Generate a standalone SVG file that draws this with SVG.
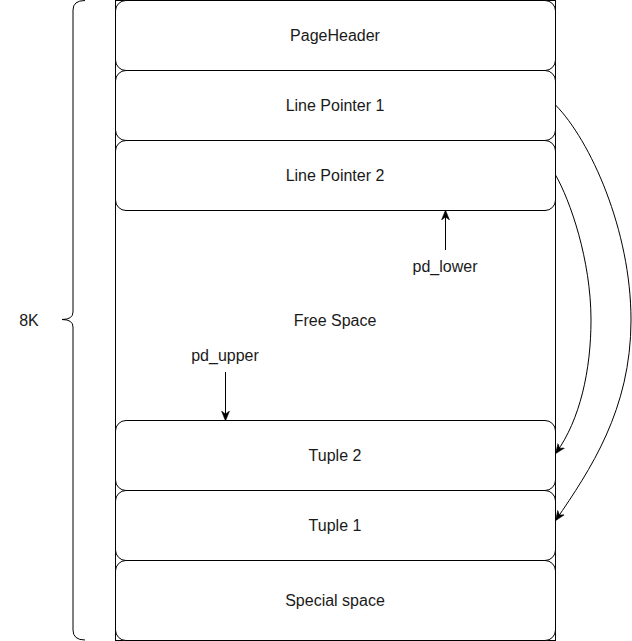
<svg xmlns="http://www.w3.org/2000/svg" width="632" height="641" viewBox="0 0 632 641">
<defs>
<style>
.box{fill:#fff;stroke:#000;stroke-width:1}
.lbl{font-family:"Liberation Sans",Arial,sans-serif;font-size:16px;fill:#1a1a1a;text-anchor:middle}
.edge{fill:none;stroke:#000;stroke-width:1}
</style>
<marker id="arr" viewBox="0 0 10 10" refX="9" refY="5" markerWidth="10" markerHeight="10" markerUnits="userSpaceOnUse" orient="auto">
<path d="M0,1 L10,5 L0,9 L3,5 Z" fill="#000" stroke="#000" stroke-width="0.5"/>
</marker>
</defs>
<rect width="632" height="641" fill="#fff"/>
<g id="free-space">
<rect class="box" x="115.5" y="0.5" width="440" height="640"/>
<text class="lbl" x="335" y="325.5">Free Space</text>
</g>
<g id="page-header">
<rect class="box" x="115.5" y="0.5" width="440" height="70" rx="10.5" ry="10.5"/>
<text class="lbl" x="335" y="40.5">PageHeader</text>
</g>
<g id="line-pointer-1">
<rect class="box" x="115.5" y="70.5" width="440" height="70" rx="10.5" ry="10.5"/>
<text class="lbl" x="335" y="110.5">Line Pointer 1</text>
</g>
<g id="line-pointer-2">
<rect class="box" x="115.5" y="140.5" width="440" height="70" rx="10.5" ry="10.5"/>
<text class="lbl" x="335" y="180.5">Line Pointer 2</text>
</g>
<g id="tuple-2">
<rect class="box" x="115.5" y="420.5" width="440" height="70" rx="10.5" ry="10.5"/>
<text class="lbl" x="335" y="460.5">Tuple 2</text>
</g>
<g id="tuple-1">
<rect class="box" x="115.5" y="490.5" width="440" height="70" rx="10.5" ry="10.5"/>
<text class="lbl" x="335" y="530.5">Tuple 1</text>
</g>
<g id="special-space">
<rect class="box" x="115.5" y="560.5" width="440" height="80" rx="10.5" ry="10.5"/>
<text class="lbl" x="335" y="605.5">Special space</text>
</g>
<g id="pd-lower">
<text class="lbl" x="445" y="271.5">pd_lower</text>
</g>
<g id="pd-upper">
<text class="lbl" x="225" y="360.5">pd_upper</text>
</g>
<g id="size-brace">
<path d="M85,0.5 Q73,0.5 73,10 L73,312 Q73,319.5 62,319.5 Q73,319.5 73,327 L73,630 Q73,640 85,640" fill="none" stroke="#000" stroke-width="1"/>
<text class="lbl" x="29" y="325.5">8K</text>
</g>
<g id="connectors">
<path class="edge" d="M445.5,250 L445.5,211" marker-end="url(#arr)"/>
<path class="edge" d="M225.5,372 L225.5,420" marker-end="url(#arr)"/>
<path class="edge" d="M555.5,105 C590,140 631,230 631,320 C631,410 590,470 556,520" marker-end="url(#arr)"/>
<path class="edge" d="M555.5,175 C570,200 591,260 591,320 C591,370 580,420 556,453" marker-end="url(#arr)"/>
</g>
</svg>
